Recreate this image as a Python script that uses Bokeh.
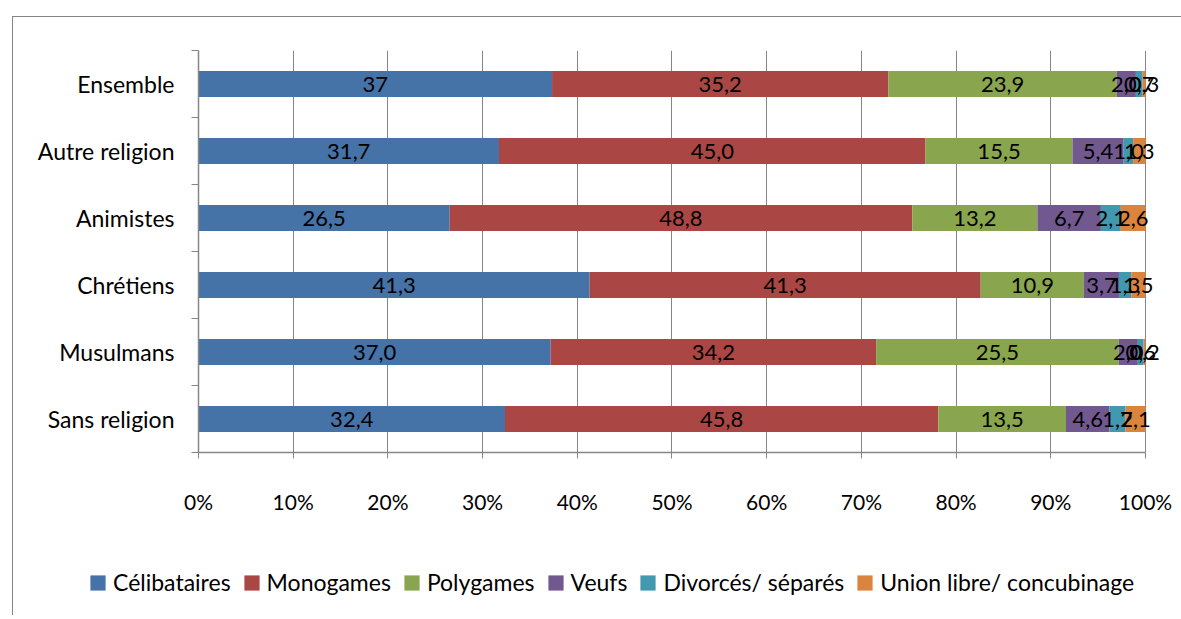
import numpy as np
from bokeh.plotting import figure
from bokeh.layouts import column
from bokeh.models import (ColumnDataSource, FixedTicker, PrintfTickFormatter,
                          Legend, LegendItem, Range1d)
from bokeh.core.properties import value
from bokeh.embed import file_html
from bokeh.resources import INLINE

# ---- data (bottom to top) ----
groups = ["Sans religion", "Musulmans", "Chrétiens", "Animistes", "Autre religion", "Ensemble"]
series = ["Célibataires", "Monogames", "Polygames", "Veufs", "Divorcés/ séparés", "Union libre/ concubinage"]
celibataires = [32.4, 37.0, 41.3, 26.5, 31.7, 37.0]
monogames    = [45.8, 34.2, 41.3, 48.8, 45.0, 35.2]
polygames    = [13.5, 25.5, 10.9, 13.2, 15.5, 23.9]
veufs        = [4.6, 2.0, 3.7, 6.7, 5.4, 2.0]
divorces     = [1.7, 0.6, 1.3, 2.1, 1.0, 0.7]
union_libre  = [2.1, 0.2, 1.5, 2.6, 1.3, 0.3]
label_overrides = {("Ensemble", "Célibataires"): "37"}
x_ticks = [0, 10, 20, 30, 40, 50, 60, 70, 80, 90, 100]
colors = ["#4572A7", "#AA4643", "#89A54E", "#71588F", "#4198AF", "#DB843D"]

FONT = "Lato"
vals = np.array([celibataires, monogames, polygames, veufs, divorces, union_libre])
totals = vals.sum(axis=0)
pct = vals / totals * 100.0
right = np.cumsum(pct, axis=0)
left = right - pct
ypos = np.arange(len(groups)) + 0.5

# the frame runs a little past 100 % so that the last labels are not clipped
p = figure(width=1168, height=528, output_backend="svg", toolbar_location=None,
           x_range=Range1d(0, 101.8), y_range=Range1d(0, len(groups)),
           min_border_left=185, min_border_top=33, min_border_right=19, min_border_bottom=93)
p.outline_line_color = None
p.background_fill_color = "white"
p.border_fill_color = "white"
p.frame_align = False

for i, name in enumerate(series):
    src = ColumnDataSource(dict(y=ypos, left=left[i], right=right[i]))
    p.hbar(y="y", left="left", right="right", height=0.39, source=src,
           fill_color=colors[i], line_color=None)

# data labels
lx, ly, lt = [], [], []
for i, name in enumerate(series):
    for j, g in enumerate(groups):
        lx.append((left[i][j] + right[i][j]) / 2)
        ly.append(ypos[j])
        lt.append(label_overrides.get((g, name), f"{vals[i][j]:.1f}".replace(".", ",")))
p.text(x=lx, y=ly, text=lt, text_align="center", text_baseline="middle",
       text_font=value(FONT), text_font_size="22px", text_color="black")

# grid
p.ygrid.grid_line_color = None
p.xgrid.grid_line_color = "#868686"
p.xgrid.ticker = FixedTicker(ticks=x_ticks)

# x axis
xa = p.xaxis[0]
xa.ticker = FixedTicker(ticks=x_ticks)
xa.bounds = (0, 100)
xa.formatter = PrintfTickFormatter(format="%d%%")
xa.axis_line_color = "#868686"
xa.axis_line_width = 1.5
xa.major_tick_line_color = "#868686"
xa.major_tick_out = 6
xa.major_tick_in = 0
xa.minor_tick_line_color = None
xa.major_label_standoff = 30
xa.major_label_text_font = FONT
xa.major_label_text_font_size = "21px"
xa.major_label_text_color = "black"

# y axis
ya = p.yaxis[0]
ya.ticker = FixedTicker(ticks=list(ypos), minor_ticks=list(range(len(groups) + 1)))
ya.major_label_overrides = {float(y): g for y, g in zip(ypos, groups)}
ya.axis_line_color = "#868686"
ya.axis_line_width = 1.5
ya.major_tick_line_color = None
ya.major_tick_out = 0
ya.major_tick_in = 0
ya.minor_tick_line_color = "#868686"
ya.minor_tick_out = 7
ya.minor_tick_in = 0
ya.major_label_standoff = 17
ya.major_label_text_font = FONT
ya.major_label_text_font_size = "23px"
ya.major_label_text_color = "black"

# legend figure (its frame spans the whole canvas)
lf = figure(width=1168, height=70, output_backend="svg", toolbar_location=None,
            x_range=Range1d(0, 1), y_range=Range1d(0, 1),
            x_axis_location=None, y_axis_location=None, min_border=0)
lf.outline_line_color = None
lf.grid.grid_line_color = None
lf.frame_align = False
items = []
for i, name in enumerate(series):
    # swatch renderer kept outside the visible range; only its legend entry shows
    r = lf.hbar(y=[5], left=[5], right=[6], height=0.5, fill_color=colors[i], line_color=None)
    items.append(LegendItem(label=name, renderers=[r]))
legend = Legend(items=items, orientation="horizontal", location=(75, 19),
                label_text_font=FONT, label_text_font_size="23px", label_text_color="black",
                glyph_width=19, glyph_height=19, label_standoff=6, spacing=11,
                padding=0, margin=0, border_line_color=None, background_fill_alpha=0)
lf.add_layout(legend, "center")

layout = column(p, lf, spacing=0,
                styles={"margin-left": "12px", "margin-top": "16px",
                        "border-left": "1px solid #868686", "border-top": "1px solid #868686"})

open("out.html", "w").write(file_html(layout, INLINE))
